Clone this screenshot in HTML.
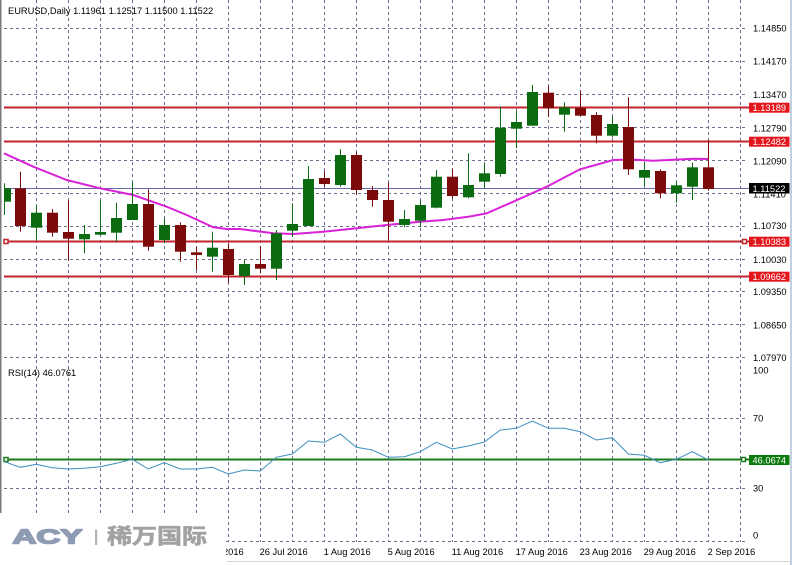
<!DOCTYPE html>
<html><head><meta charset="utf-8"><style>
html,body{margin:0;padding:0;background:#fff;}
svg{display:block;}
text{font-family:"Liberation Sans",Arial,sans-serif;}
</style></head><body>
<svg width="798" height="565" viewBox="0 0 798 565" xmlns="http://www.w3.org/2000/svg">
<rect width="798" height="565" fill="#fff"/>
<!-- vertical grid -->
<g stroke="#6e6e8e" stroke-width="1" stroke-dasharray="3,3">
<line x1="36.5" y1="0" x2="36.5" y2="542"/><line x1="68.5" y1="0" x2="68.5" y2="542"/><line x1="100.5" y1="0" x2="100.5" y2="542"/><line x1="132.5" y1="0" x2="132.5" y2="542"/><line x1="164.5" y1="0" x2="164.5" y2="542"/><line x1="196.5" y1="0" x2="196.5" y2="542"/><line x1="228.5" y1="0" x2="228.5" y2="542"/><line x1="260.5" y1="0" x2="260.5" y2="542"/><line x1="292.5" y1="0" x2="292.5" y2="542"/><line x1="324.5" y1="0" x2="324.5" y2="542"/><line x1="356.5" y1="0" x2="356.5" y2="542"/><line x1="388.5" y1="0" x2="388.5" y2="542"/><line x1="420.5" y1="0" x2="420.5" y2="542"/><line x1="452.5" y1="0" x2="452.5" y2="542"/><line x1="484.5" y1="0" x2="484.5" y2="542"/><line x1="516.5" y1="0" x2="516.5" y2="542"/><line x1="548.5" y1="0" x2="548.5" y2="542"/><line x1="580.5" y1="0" x2="580.5" y2="542"/><line x1="612.5" y1="0" x2="612.5" y2="542"/><line x1="644.5" y1="0" x2="644.5" y2="542"/><line x1="676.5" y1="0" x2="676.5" y2="542"/><line x1="708.5" y1="0" x2="708.5" y2="542"/><line x1="740.5" y1="0" x2="740.5" y2="542"/>
<!-- horizontal grid main -->
<line x1="4" y1="28.5" x2="746" y2="28.5"/><line x1="4" y1="61.5" x2="746" y2="61.5"/><line x1="4" y1="94.5" x2="746" y2="94.5"/><line x1="4" y1="127.5" x2="746" y2="127.5"/><line x1="4" y1="160.5" x2="746" y2="160.5"/><line x1="4" y1="193.5" x2="746" y2="193.5"/><line x1="4" y1="226.5" x2="746" y2="226.5"/><line x1="4" y1="259.5" x2="746" y2="259.5"/><line x1="4" y1="291.5" x2="746" y2="291.5"/><line x1="4" y1="324.5" x2="746" y2="324.5"/><line x1="4" y1="357.5" x2="746" y2="357.5"/>
<!-- RSI grid -->
<line x1="4" y1="418.5" x2="746" y2="418.5"/><line x1="4" y1="488.5" x2="746" y2="488.5"/><line x1="4" y1="541.5" x2="746" y2="541.5"/>
</g>
<!-- left border -->
<rect x="0" y="0" width="1.5" height="513" fill="#7a7a7a"/>
<!-- right border -->
<rect x="790" y="0" width="2" height="565" fill="#c3d0e2"/>
<!-- bottom line -->
<rect x="227" y="561" width="563" height="1" fill="#d4d4d4"/>

<!-- bid line -->
<line x1="4" y1="188.5" x2="749" y2="188.5" stroke="#6a68a8" stroke-width="1"/>

<!-- red horizontal lines -->
<g stroke="#c0262c" stroke-width="2">
<line x1="4" y1="107.5" x2="749" y2="107.5"/>
<line x1="4" y1="141.5" x2="749" y2="141.5"/>
<line x1="4" y1="241.5" x2="749" y2="241.5"/>
<line x1="4" y1="276.5" x2="749" y2="276.5"/>
</g>
<rect x="4" y="239.5" width="4" height="4" fill="#fff" stroke="#c0262c" stroke-width="1.5"/>
<rect x="742.5" y="239.5" width="4" height="4" fill="#fff" stroke="#c0262c" stroke-width="1.5"/>

<!-- MA -->
<polyline fill="none" stroke="#d822d8" stroke-width="2" points="4,153.3 33.3,166.7 66.7,180 100,188.3 133.3,195 166.7,206.7 186.7,215 213.3,227.3 226.7,229 240,229 273.3,233.3 293.3,234 323.3,231.7 356.7,228.3 386.7,225 420,221.7 443.3,220 470,216.5 486.7,213.3 513.3,201.7 546.7,186.7 580,169.3 613.3,160 630,159.5 653.3,160.7 693.3,158.7 708.3,159"/>

<!-- candles -->
<g>
<g fill="#0b6b10">
<rect x="4" y="183.3" width="1" height="31.7"/><rect x="4" y="188.3" width="7" height="13.4"/>
<rect x="36" y="206" width="1" height="34"/><rect x="31" y="212.7" width="11" height="15"/>
<rect x="84" y="225" width="1" height="28.3"/><rect x="79" y="234" width="11" height="5.3"/>
<rect x="100" y="200" width="1" height="35"/><rect x="95" y="232" width="11" height="2.7"/>
<rect x="116" y="202.7" width="1" height="39"/><rect x="111" y="218" width="11" height="14.7"/>
<rect x="132" y="182.3" width="1" height="37.7"/><rect x="127" y="204" width="11" height="16"/>
<rect x="164" y="218.3" width="1" height="25"/><rect x="159" y="225" width="11" height="15"/>
<rect x="212" y="231.7" width="1" height="40"/><rect x="207" y="247.7" width="11" height="9"/>
<rect x="244" y="260" width="1" height="25"/><rect x="239" y="264" width="11" height="12"/>
<rect x="276" y="230" width="1" height="50"/><rect x="271" y="233.3" width="11" height="35.4"/>
<rect x="292" y="203.3" width="1" height="33.4"/><rect x="287" y="224" width="11" height="6.7"/>
<rect x="308" y="166" width="1" height="60"/><rect x="303" y="179" width="11" height="47"/>
<rect x="340" y="149.3" width="1" height="37.4"/><rect x="335" y="155" width="11" height="30"/>
<rect x="404" y="210" width="1" height="17.3"/><rect x="399" y="219" width="11" height="6"/>
<rect x="420" y="200.7" width="1" height="26.6"/><rect x="415" y="205" width="11" height="15.7"/>
<rect x="436" y="170" width="1" height="38.3"/><rect x="431" y="176.7" width="11" height="31"/>
<rect x="468" y="153.3" width="1" height="45"/><rect x="463" y="185" width="11" height="12.3"/>
<rect x="484" y="163.3" width="1" height="25"/><rect x="479" y="173.3" width="11" height="8.4"/>
<rect x="500" y="106.7" width="1" height="70"/><rect x="495" y="127.7" width="11" height="46.3"/>
<rect x="516" y="110.7" width="1" height="37.6"/><rect x="511" y="122" width="11" height="6.7"/>
<rect x="532" y="85" width="1" height="40.7"/><rect x="527" y="92" width="11" height="33.7"/>
<rect x="564" y="102.3" width="1" height="29.4"/><rect x="559" y="107.3" width="11" height="7.4"/>
<rect x="612" y="116.7" width="1" height="20.6"/><rect x="607" y="124" width="11" height="11.7"/>
<rect x="644" y="161.7" width="1" height="24.3"/><rect x="639" y="170" width="11" height="7.7"/>
<rect x="676" y="181.7" width="1" height="21"/><rect x="671" y="185.3" width="11" height="8"/>
<rect x="692" y="162.7" width="1" height="37.3"/><rect x="687" y="167.3" width="11" height="19.4"/>
</g>
<g fill="#7d0a0a">
<rect x="20" y="171.7" width="1" height="60"/><rect x="15" y="188.3" width="11" height="37.7"/>
<rect x="52" y="209" width="1" height="27.7"/><rect x="47" y="212.7" width="11" height="20"/>
<rect x="68" y="200.7" width="1" height="60"/><rect x="63" y="232" width="11" height="6.7"/>
<rect x="148" y="189.3" width="1" height="61.4"/><rect x="143" y="204" width="11" height="42.7"/>
<rect x="180" y="222.3" width="1" height="39.4"/><rect x="175" y="225" width="11" height="26.7"/>
<rect x="196" y="246.7" width="1" height="23.3"/><rect x="191" y="252.3" width="11" height="2.7"/>
<rect x="228" y="243.3" width="1" height="39.4"/><rect x="223" y="249" width="11" height="26"/>
<rect x="260" y="246" width="1" height="27.3"/><rect x="255" y="264" width="11" height="4.7"/>
<rect x="324" y="170.7" width="1" height="16"/><rect x="319" y="178" width="11" height="6"/>
<rect x="356" y="152.3" width="1" height="42.7"/><rect x="351" y="155" width="11" height="35"/>
<rect x="372" y="186" width="1" height="20.7"/><rect x="367" y="190" width="11" height="10"/>
<rect x="388" y="182.7" width="1" height="57.3"/><rect x="383" y="200" width="11" height="21.7"/>
<rect x="452" y="169.3" width="1" height="29"/><rect x="447" y="176.7" width="11" height="19.3"/>
<rect x="548" y="86" width="1" height="30.7"/><rect x="543" y="92.7" width="11" height="15.6"/>
<rect x="580" y="90.7" width="1" height="25"/><rect x="575" y="108" width="11" height="7.7"/>
<rect x="596" y="112.3" width="1" height="31"/><rect x="591" y="115" width="11" height="20.7"/>
<rect x="628" y="97.3" width="1" height="77.7"/><rect x="623" y="127" width="11" height="42.3"/>
<rect x="660" y="169.3" width="1" height="29"/><rect x="655" y="171" width="11" height="22.3"/>
<rect x="708" y="140" width="1" height="50.7"/><rect x="703" y="167.3" width="11" height="21.7"/>
</g>
</g>

<!-- RSI -->
<line x1="4" y1="459.5" x2="749" y2="459.5" stroke="#1b7a1b" stroke-width="2"/>
<rect x="4" y="457.5" width="4" height="4" fill="#fff" stroke="#1b7a1b" stroke-width="1.5"/>
<rect x="741.5" y="457.5" width="4" height="4" fill="#fff" stroke="#1b7a1b" stroke-width="1.5"/>
<polyline fill="none" stroke="#3d8ebf" stroke-width="1" points="4.3,461.7 20.3,467.3 36.3,464.3 52.3,467.7 68.3,469 84.3,468.3 100.3,466.7 116.3,463.3 132.3,459.3 148.3,469 164.3,462.7 180.3,469 196.3,469 212.3,467.3 228.3,474 244.3,470 260.3,471 276.3,457.3 292.3,454 308.3,441 324.3,442.3 340.3,434 356.3,447.3 372.3,450 388.3,457.3 404.3,456.7 420.3,451.7 436.3,442.3 452.3,449 468.3,446 484.3,442 500.3,430 516.3,428.3 532.3,421 548.3,428.3 564.3,428.3 580.3,431.7 596.3,440 612.3,437.7 628.3,454 644.3,455.3 660.3,462.7 676.3,459.3 692.3,451.7 708.3,460"/>

<!-- titles -->
<text x="8" y="14" font-size="9.3" fill="#000">EURUSD,Daily  1.11961 1.12517 1.11500 1.11522</text>
<text x="8" y="376" font-size="9.3" fill="#000">RSI(14) 46.0761</text>

<!-- price axis labels -->
<g font-size="9.3" fill="#000">
<text x="753" y="31.6">1.14850</text>
<text x="753" y="64.6">1.14170</text>
<text x="753" y="97.8">1.13470</text>
<text x="753" y="131.3">1.12790</text>
<text x="753" y="164.6">1.12090</text>
<text x="753" y="197.5">1.11410</text>
<text x="753" y="229">1.10730</text>
<text x="753" y="263">1.10030</text>
<text x="753" y="295">1.09350</text>
<text x="753" y="328.3">1.08650</text>
<text x="753" y="361">1.07970</text>
<text x="753" y="373.5">100</text>
<text x="753" y="421.6">70</text>
<text x="753" y="491.6">30</text>
<text x="753" y="538.3">0</text>
</g>
<!-- value labels -->
<rect x="749" y="102.7" width="40.5" height="10" fill="#e3161c"/>
<text x="752.5" y="111" font-size="9.3" fill="#fff">1.13189</text>
<rect x="749" y="136.7" width="40.5" height="10" fill="#e3161c"/>
<text x="752.5" y="145" font-size="9.3" fill="#fff">1.12482</text>
<rect x="749" y="236.7" width="40.5" height="10" fill="#e3161c"/>
<text x="752.5" y="245" font-size="9.3" fill="#fff">1.10383</text>
<rect x="749" y="271.7" width="40.5" height="10" fill="#e3161c"/>
<text x="752.5" y="280" font-size="9.3" fill="#fff">1.09662</text>
<rect x="749" y="183" width="40.5" height="10.5" fill="#000"/>
<text x="752.5" y="191.8" font-size="9.3" fill="#fff">1.11522</text>
<rect x="749" y="455" width="40.5" height="10" fill="#0d7a0d"/>
<text x="752.5" y="463.3" font-size="9.3" fill="#fff">46.0674</text>

<!-- date labels -->
<g font-size="9.3" fill="#000">
<text x="195.6" y="555">20 Jul 2016</text>
<text x="259.6" y="555">26 Jul 2016</text>
<text x="323.6" y="555">1 Aug 2016</text>
<text x="387.6" y="555">5 Aug 2016</text>
<text x="451.6" y="555">11 Aug 2016</text>
<text x="515.6" y="555">17 Aug 2016</text>
<text x="579.6" y="555">23 Aug 2016</text>
<text x="643.6" y="555">29 Aug 2016</text>
<text x="707.6" y="555">2 Sep 2016</text>
</g>

<!-- logo -->
<rect x="0" y="513" width="226" height="52" fill="#fff"/>
<text x="12.5" y="543.5" font-size="20.5" font-weight="bold" fill="#8e9bb3" stroke="#8e9bb3" stroke-width="1.6" stroke-linejoin="round" textLength="70" lengthAdjust="spacingAndGlyphs">ACY</text>
<rect x="95" y="529.5" width="2.2" height="15.5" fill="#b4b4b4"/>
<text x="107" y="543.5" font-size="21" font-weight="bold" fill="#a2a2a2" stroke="#a2a2a2" stroke-width="0.6" textLength="100" lengthAdjust="spacingAndGlyphs" style="font-family:'Liberation Sans','Noto Sans CJK SC',sans-serif">稀万国际</text>
</svg>
</body></html>
